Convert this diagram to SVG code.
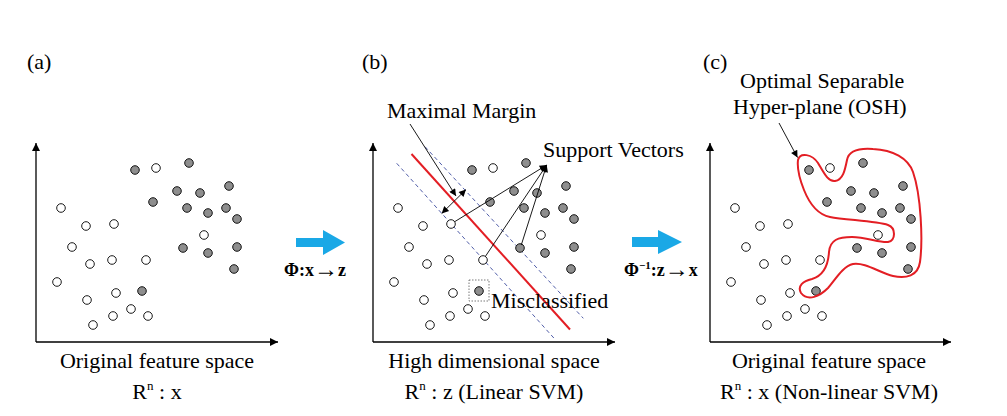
<svg xmlns="http://www.w3.org/2000/svg" xmlns:xlink="http://www.w3.org/1999/xlink" width="1007" height="416" viewBox="0 0 1007 416">
<style>
.t{font-family:"Liberation Serif","Times New Roman",serif;font-size:22px;fill:#000}
.phi{font-family:"Liberation Serif","Times New Roman",serif;font-size:18px;font-weight:bold;fill:#000}
.g{fill:#8e8e8e;stroke:#000;stroke-width:0.9}
.w{fill:#fff;stroke:#000;stroke-width:0.9}
.ax{stroke:#000;stroke-width:1.3;fill:none}
.ln{stroke:#000;stroke-width:0.9;fill:none}
.dash{stroke:#3d4c9e;stroke-width:0.9;stroke-dasharray:4 3;fill:none}
.red{stroke:#e31e24;stroke-width:2;fill:none}
.blue{fill:#1aa8e6}
</style>
<defs>
<marker id="axh" viewBox="0 0 10 10" refX="10" refY="5" markerWidth="11" markerHeight="8" markerUnits="userSpaceOnUse" orient="auto"><path d="M0,0 L10,5 L0,10 z" fill="#000"/></marker>
<marker id="ah" viewBox="0 0 10 10" refX="10" refY="5" markerWidth="10" markerHeight="7" markerUnits="userSpaceOnUse" orient="auto-start-reverse"><path d="M0,0 L10,5 L0,10 z" fill="#000"/></marker>
<g id="pts">
<circle class="g" cx="135" cy="170" r="4.3"/>
<circle class="g" cx="189" cy="163" r="4.3"/>
<circle class="g" cx="177" cy="191" r="4.3"/>
<circle class="g" cx="200" cy="193" r="4.3"/>
<circle class="g" cx="229" cy="186" r="4.3"/>
<circle class="g" cx="153" cy="202" r="4.3"/>
<circle class="g" cx="187" cy="208" r="4.3"/>
<circle class="g" cx="208" cy="213" r="4.3"/>
<circle class="g" cx="226" cy="208" r="4.3"/>
<circle class="g" cx="237" cy="219" r="4.3"/>
<circle class="g" cx="183" cy="248" r="4.3"/>
<circle class="g" cx="208" cy="253" r="4.3"/>
<circle class="g" cx="237" cy="247" r="4.3"/>
<circle class="g" cx="234" cy="269" r="4.3"/>
<circle class="g" cx="142" cy="291" r="4.3"/>
<circle class="w" cx="156" cy="168" r="4.3"/>
<circle class="w" cx="204" cy="235" r="4.3"/>
<circle class="w" cx="61" cy="208" r="4.3"/>
<circle class="w" cx="86" cy="226" r="4.3"/>
<circle class="w" cx="114" cy="224" r="4.3"/>
<circle class="w" cx="72" cy="247" r="4.3"/>
<circle class="w" cx="90" cy="264" r="4.3"/>
<circle class="w" cx="112" cy="260" r="4.3"/>
<circle class="w" cx="146" cy="260" r="4.3"/>
<circle class="w" cx="57" cy="282" r="4.3"/>
<circle class="w" cx="87" cy="300" r="4.3"/>
<circle class="w" cx="116" cy="293" r="4.3"/>
<circle class="w" cx="131" cy="309" r="4.3"/>
<circle class="w" cx="113" cy="316" r="4.3"/>
<circle class="w" cx="148" cy="316" r="4.3"/>
<circle class="w" cx="93" cy="325" r="4.3"/>
</g>
</defs>
<rect width="1007" height="416" fill="#fff"/>

<g id="panel-a">
<text class="t" x="27" y="69">(a)</text>
<path class="ax" d="M36,342 V143" marker-end="url(#axh)"/>
<path class="ax" d="M36,342 H278" marker-end="url(#axh)"/>
<use xlink:href="#pts" href="#pts"/>
<text class="t" x="157" y="368" text-anchor="middle">Original feature space</text>
<text class="t" x="157" y="399" text-anchor="middle">R<tspan font-size="13" dy="-9">n</tspan><tspan dy="9"> : x</tspan></text>
</g>

<g id="transform-1">
<polygon class="blue" points="296,238 323,238 323,230 345,242.5 323,255 323,247 296,247"/>
<text class="phi" x="284" y="276">Φ:x<tspan font-size="24" dy="1">→</tspan><tspan dy="-1">z</tspan></text>
</g>

<g id="panel-b">
<text class="t" x="362" y="69">(b)</text>
<path class="ax" d="M373,342 V143" marker-end="url(#axh)"/>
<path class="ax" d="M373,342 H615" marker-end="url(#axh)"/>
<line class="dash" x1="396.7" y1="163.3" x2="555" y2="339.3"/>
<line class="dash" x1="425" y1="146.7" x2="583.3" y2="318.3"/>
<line class="red" x1="411.5" y1="154" x2="570" y2="329.5"/>
<use xlink:href="#pts" href="#pts" x="337"/>
<rect x="469" y="280" width="20" height="21" fill="none" stroke="#555" stroke-width="0.8" stroke-dasharray="1.5 1.5"/>
<text class="t" x="387" y="118">Maximal Margin</text>
<text class="t" x="543" y="157">Support Vectors</text>
<text class="t" x="491" y="308">Misclassified</text>
<text class="t" x="494" y="368" text-anchor="middle">High dimensional space</text>
<text class="t" x="494" y="399" text-anchor="middle">R<tspan font-size="13" dy="-9">n</tspan><tspan dy="9"> : z (Linear SVM)</tspan></text>
</g>

<g id="transform-2">
<polygon class="blue" points="632,237 658,237 658,230 682,242 658,254 658,247 632,247"/>
<text class="phi" x="624" y="276">Φ<tspan font-size="11" dy="-7">−1</tspan><tspan dy="7">:z</tspan><tspan font-size="24" dy="1">→</tspan><tspan dy="-1">x</tspan></text>
</g>

<g id="panel-c">
<text class="t" x="703" y="69">(c)</text>
<path class="ax" d="M710,342 V143" marker-end="url(#axh)"/>
<path class="ax" d="M710,342 H951" marker-end="url(#axh)"/>
<use xlink:href="#pts" href="#pts" x="674"/>
<path class="red" stroke-width="1.8" d="M798,160 C800,152 812,154 818,163 C824,173 828,182 835,181 C843,180 845,170 847,160 C849,150 860,148 873,149 C893,150 908,158 913,172 C921,195 923,240 920,262 C918,276 906,279 893,276 C880,273 865,262 853,264 C843,266 835,280 828,288 C820,296 808,302 801,293 C797,286 803,281 812,279 C822,276 828,268 829,252 C830,240 838,237 852,237 C866,237 880,243 888,242 C896,240 896,228 888,225 C876,221 845,220 830,217 C815,214 808,200 804,190 C800,180 797,168 798,160 Z"/>
<text class="t" x="740" y="88">Optimal Separable</text>
<text class="t" x="733" y="114">Hyper-plane (OSH)</text>
<text class="t" x="829" y="368" text-anchor="middle">Original feature space</text>
<text class="t" x="829" y="399" text-anchor="middle">R<tspan font-size="13" dy="-9">n</tspan><tspan dy="9"> : x (Non-linear SVM)</tspan></text>
</g>

<g id="connectors">
<line class="ln" x1="410" y1="124" x2="456" y2="196" marker-end="url(#ah)"/>
<line class="ln" x1="441.7" y1="213.5" x2="466" y2="189.5" marker-start="url(#ah)" marker-end="url(#ah)"/>
<line class="ln" x1="454.7" y1="221.7" x2="546.7" y2="165" marker-end="url(#ah)"/>
<line class="ln" x1="485.4" y1="256.4" x2="546.7" y2="165" marker-end="url(#ah)"/>
<line class="ln" x1="521.3" y1="244.9" x2="546.7" y2="165" marker-end="url(#ah)"/>
<line class="ln" x1="779" y1="123" x2="797.5" y2="157.5" marker-end="url(#ah)"/>
</g>
</svg>
